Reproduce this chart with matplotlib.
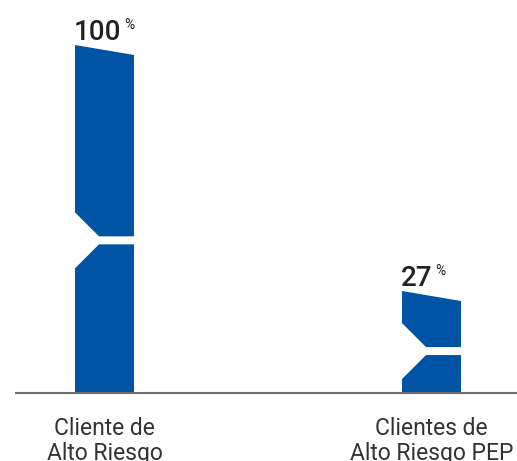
import numpy as np
import matplotlib.pyplot as plt
from matplotlib.patches import Polygon

categories = ["Cliente de\nAlto Riesgo", "Clientes de\nAlto Riesgo PEP"]
values = [100, 27]
value_labels = ["100", "27"]

blue = "#0054a6"
W, H = 517, 461
px_y = 3.37          # pixels per percent unit
px_x = 327.0         # pixels per category step

fig = plt.figure(figsize=(W / 100, H / 100), dpi=100)
ax = fig.add_axes([0, 0, 1, 1])
ax.set_xlim(-104.5 / px_x, (W - 104.5) / px_x)
ax.set_ylim(-69 / px_y, 392 / px_y)
ax.axis("off")

bw = 59 / px_x          # bar width
slant = 10 / px_y       # left top edge higher than right
cx, cy = 24 / px_x, 24 / px_y   # notch chamfer
gap = 8 / px_y

for i, (v, lab) in enumerate(zip(values, value_labels)):
    L, R = i - bw / 2, i + bw / 2
    g = 0.45 * v
    top = [(L, v + slant), (R, v), (R, g + gap / 2), (L + cx, g + gap / 2),
           (L, g + gap / 2 + cy)]
    bot = [(L, 0), (R, 0), (R, g - gap / 2), (L + cx, g - gap / 2),
           (L, g - gap / 2 - cy)]
    ax.add_patch(Polygon(top, closed=True, fc=blue, ec="none", zorder=3))
    ax.add_patch(Polygon(bot, closed=True, fc=blue, ec="none", zorder=3))
    t = ax.text(L - 1 / px_x, v + slant + 5 / px_y, lab, ha="left", va="baseline",
                fontsize=20, family="Roboto", weight="medium", color="#222222")
    ax.annotate("%", xy=(1, 1), xycoords=t, xytext=(2, 1), textcoords="offset points",
                ha="left", va="top", fontsize=10, family="Roboto", color="#222222")
    ax.text(i, -7.3, categories[i], ha="center", va="top", fontsize=16.5,
            family="Roboto", color="#333333", linespacing=1.15)

ax.axhline(-1 / px_y, xmin=16 / W, xmax=1, color="#6e6e6e", lw=1.5, zorder=2)

fig.savefig("out.png", dpi=100)
